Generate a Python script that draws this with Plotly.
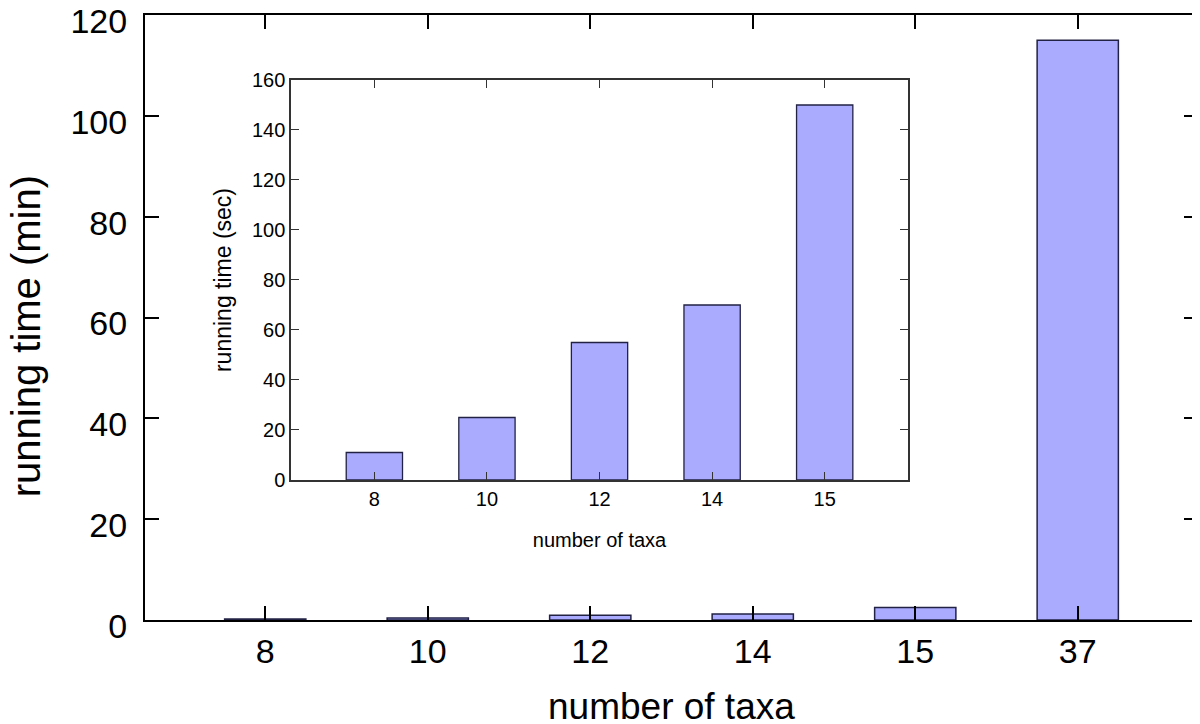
import plotly.graph_objects as go

# data
taxa_all = ["8", "10", "12", "14", "15", "37"]
time_min = [0.18, 0.42, 0.92, 1.17, 2.5, 115]

taxa_small = ["8", "10", "12", "14", "15"]
time_sec = [11, 25, 55, 70, 150]

BAR = "#aaaaff"
EDGE = "#222244"
FONT = "Liberation Sans, Arial, sans-serif"

fig = go.Figure()

# main plot
fig.add_trace(go.Bar(x=taxa_all, y=time_min, width=0.5,
                     marker=dict(color=BAR, line=dict(color=EDGE, width=1.5)),
                     xaxis="x", yaxis="y", showlegend=False))

# inset
fig.add_trace(go.Bar(x=taxa_small, y=time_sec, width=0.5,
                     marker=dict(color=BAR, line=dict(color=EDGE, width=1.3)),
                     xaxis="x2", yaxis="y2", showlegend=False))

ax_main = dict(showline=True, linecolor="black", linewidth=2, mirror="allticks",
               ticks="inside", ticklen=14, tickwidth=2, tickcolor="black",
               showgrid=False, zeroline=False, ticklabeloverflow="allow",
               automargin=False)
ax_in = dict(showline=True, linecolor="#333333", linewidth=1.5, mirror="allticks",
             ticks="inside", ticklen=8, tickwidth=1.3, tickcolor="#333333",
             showgrid=False, zeroline=False, automargin=False,
             tickfont=dict(family=FONT, size=20, color="black"))

# page has an 8px body margin, so the figure is sized to fit the window
fig.update_layout(
    width=1192, height=716,
    margin=dict(l=137, r=2, t=7, b=104, autoexpand=False),
    paper_bgcolor="white", plot_bgcolor="white",
    xaxis=dict(ax_main, type="category", range=[-0.74, 5.74], domain=[0, 1],
               tickfont=dict(family=FONT, size=34, color="black")),
    yaxis=dict(ax_main, range=[0, 120], dtick=20, domain=[0, 1],
               tickfont=dict(family=FONT, size=34, color="black"),
               ticklabelstandoff=9, ticklabelshift=6),
    xaxis2=dict(ax_in, type="category", range=[-0.74, 4.74],
                domain=[0.1387, 0.7246], anchor="y2",
                title=dict(text="number of taxa", standoff=24,
                           font=dict(family=FONT, size=20, color="black"))),
    yaxis2=dict(ax_in, range=[0, 160], dtick=20,
                domain=[0.2314, 0.8926], anchor="x2",
                title=dict(text="running time (sec)", standoff=14,
                           font=dict(family=FONT, size=23, color="black"))),
    bargap=0.5,
)

# main axis titles as annotations (axis titles get squeezed by the margins)
fig.add_annotation(text="number of taxa", xref="paper", yref="paper",
                   x=0.5, y=-0.143, xanchor="center", yanchor="middle",
                   showarrow=False, font=dict(family=FONT, size=37, color="black"))
fig.add_annotation(text="running time (min)", xref="paper", yref="paper",
                   x=-0.113, y=0.469, xanchor="center", yanchor="middle",
                   textangle=-90, showarrow=False,
                   font=dict(family=FONT, size=40, color="black"))

fig.write_html("out.html")
